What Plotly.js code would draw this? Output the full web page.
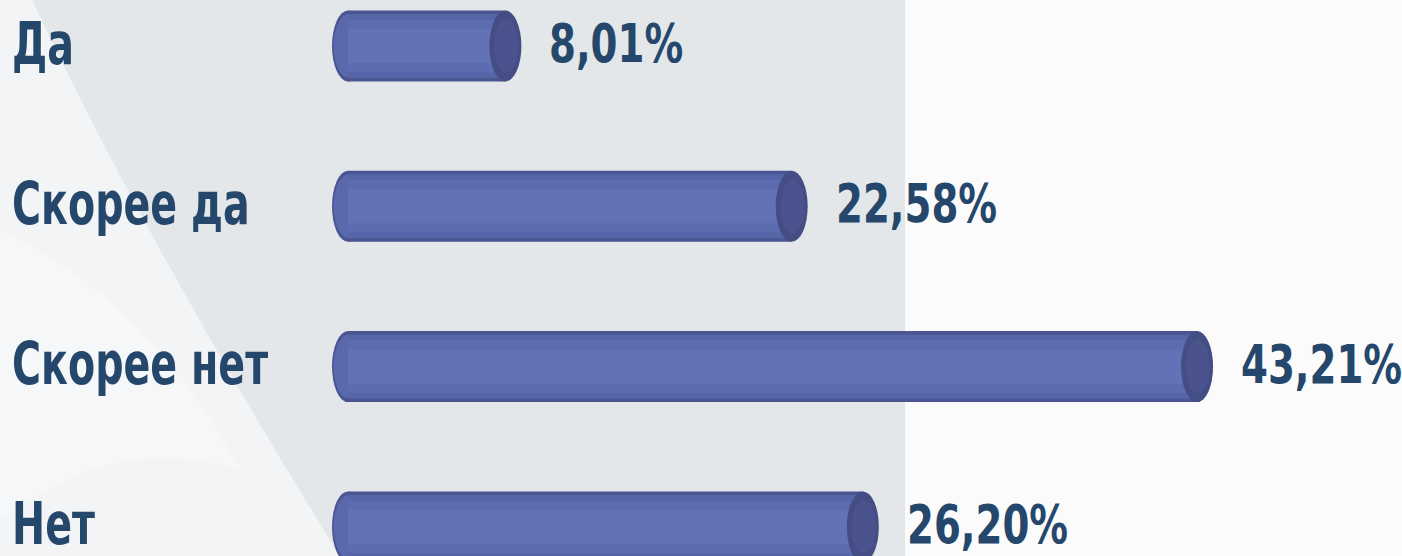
<!DOCTYPE html>
<html>
<head>
<meta charset="utf-8">
<script src="https://cdn.plot.ly/plotly-3.0.1.min.js"></script>
<style>
  html, body { margin: 0; padding: 0; background: #fbfbfb; }
  #chart { width: 1402px; height: 556px; }
</style>
</head>
<body>
<div id="chart"></div>
<script>
// ---- data ----
const categories = ["Да", "Скорее да", "Скорее нет", "Нет"];
const values = [8.01, 22.58, 43.21, 26.20];
const valueLabels = ["8,01%", "22,58%", "43,21%", "26,20%"];

// ---- geometry / style ----
const W = 1402, H = 556;
const pxPerUnit = 19.65;     // horizontal scale
const zeroPx = 348;          // pixel of value 0
const rxPx = 16;             // half-width of cylinder end ellipses (px)
const rowPx = 160.3, firstRowPx = 46;
const barW = 0.443;

const xRange = [-zeroPx / pxPerUnit, (W - zeroPx) / pxPerUnit];
const yRange = [(H - firstRowPx) / rowPx, -firstRowPx / rowPx];
const rx = rxPx / pxPerUnit;

const FONT = "DejaVu Sans Condensed, Liberation Sans Narrow, sans-serif";
const TXT = "#24476b";

const yIdx = categories.map((c, i) => i);

// layered bars to imitate cylindrical shading
const layers = [
  {w: barW,        c: "#4b5592"},
  {w: barW * 0.90, c: "#5664a8"},
  {w: barW * 0.74, c: "#5d6cb1"},
  {w: barW * 0.48, c: "#6372b7"}
];
const traces = layers.map(L => ({
  type: "bar",
  orientation: "h",
  y: yIdx,
  x: values,
  base: 0,
  width: L.w,
  marker: {color: L.c, line: {width: 0}},
  hoverinfo: "skip",
  showlegend: false
}));

const shapes = [];
// background left panel
shapes.push({type: "rect", xref: "paper", yref: "paper", x0: 0, x1: 905 / W, y0: 0, y1: 1,
  fillcolor: "#e3e7ea", line: {width: 0}, layer: "below"});
// light diagonal streaks
function P(px, py) { return (px / W).toFixed(4) + "," + (1 - py / H).toFixed(4); }
shapes.push({type: "path", xref: "paper", yref: "paper",
  path: "M" + P(0, 0) + " L" + P(32, 0) + " Q" + P(150, 250) + " " + P(340, 556) + " L" + P(0, 556) + " Z",
  fillcolor: "rgba(255,255,255,0.55)", line: {width: 0}, layer: "below"});
shapes.push({type: "path", xref: "paper", yref: "paper",
  path: "M" + P(0, 230) + " Q" + P(150, 300) + " " + P(240, 470) + " Q" + P(120, 430) + " " + P(0, 520) + " Z",
  fillcolor: "rgba(255,255,255,0.3)", line: {width: 0}, layer: "below"});

values.forEach((v, i) => {
  // left convex end
  shapes.push({type: "circle", xref: "x", yref: "y", x0: -rx, x1: rx, y0: i - barW / 2, y1: i + barW / 2,
    fillcolor: "#4b5592", line: {width: 0}, layer: "below"});
  shapes.push({type: "circle", xref: "x", yref: "y", x0: -rx * 0.9, x1: rx, y0: i - barW * 0.45, y1: i + barW * 0.45,
    fillcolor: "#5a68ac", line: {width: 0}, layer: "below"});
  // right visible face
  shapes.push({type: "circle", xref: "x", yref: "y", x0: v - rx, x1: v + rx, y0: i - barW / 2, y1: i + barW / 2,
    fillcolor: "#444d84", line: {width: 0}, layer: "above"});
  shapes.push({type: "circle", xref: "x", yref: "y", x0: v - rx * 0.7, x1: v + rx * 0.8, y0: i - barW * 0.38, y1: i + barW * 0.38,
    fillcolor: "#4a538d", line: {width: 0}, layer: "above"});
});

const annotations = [];
categories.forEach((c, i) => {
  annotations.push({xref: "paper", yref: "y", x: 10 / W, y: i, xanchor: "left", yanchor: "middle", yshift: 3,
    text: "<b>" + c + "</b>", showarrow: false, font: {family: FONT, size: 44, color: TXT}});
});
values.forEach((v, i) => {
  annotations.push({xref: "x", yref: "y", x: v, y: i, xanchor: "left", yanchor: "middle", xshift: rxPx + 26, yshift: 2,
    text: "<b>" + valueLabels[i] + "</b>", showarrow: false, font: {family: FONT, size: 43, color: TXT}});
});

const layout = {
  width: W, height: H,
  margin: {l: 0, r: 0, t: 0, b: 0, pad: 0},
  paper_bgcolor: "#fbfbfb",
  plot_bgcolor: "rgba(0,0,0,0)",
  barmode: "overlay",
  xaxis: {range: xRange, visible: false, showgrid: false, zeroline: false, fixedrange: true},
  yaxis: {range: yRange, visible: false, showgrid: false, zeroline: false, fixedrange: true},
  shapes: shapes,
  annotations: annotations,
  showlegend: false
};

Plotly.newPlot("chart", traces, layout, {displayModeBar: false, staticPlot: true}).then(gd => {
  // stretch the condensed text vertically to match the tall, narrow lettering of the original
  const texts = gd.querySelectorAll("text.annotation-text");
  texts.forEach((t, k) => {
    const s = k < categories.length ? 1.32 : 1.22;
    const b = t.getBBox();
    const cy = b.y + b.height / 2;
    t.setAttribute("transform", "translate(0," + cy + ") scale(1," + s + ") translate(0," + (-cy) + ")");
  });
});
</script>
</body>
</html>
